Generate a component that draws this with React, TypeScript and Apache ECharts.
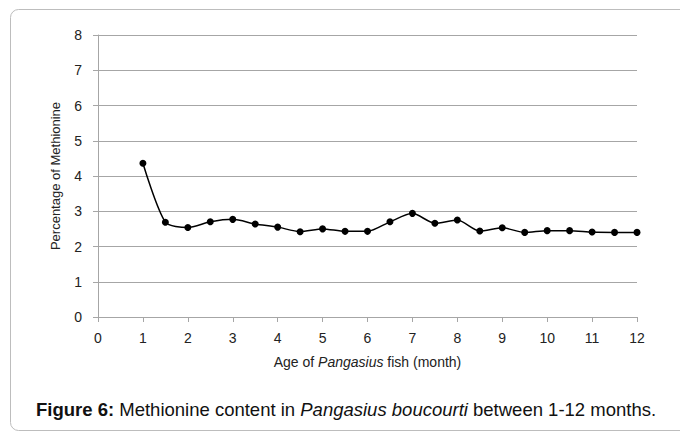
import React, { useEffect, useRef } from "react";
import * as echarts from "echarts";

const ages = [1, 1.5, 2, 2.5, 3, 3.5, 4, 4.5, 5, 5.5, 6, 6.5, 7, 7.5, 8, 8.5, 9, 9.5, 10, 10.5, 11, 11.5, 12];
const methionine = [4.36, 2.69, 2.54, 2.7, 2.77, 2.64, 2.55, 2.42, 2.5, 2.43, 2.43, 2.7, 2.94, 2.66, 2.75, 2.44, 2.53, 2.4, 2.45, 2.45, 2.41, 2.4, 2.4];
const xTitle = "Age of {i|Pangasius} fish (month)";
const yTitle = "Percentage of Methionine";
const caption = "{b|Figure 6:} Methionine content in {i|Pangasius boucourti} between 1-12 months.";

export default function App() {
  const ref = useRef<HTMLDivElement>(null);
  useEffect(() => {
    if (!ref.current) return;
    const chart = echarts.init(ref.current, null, { renderer: "svg" });
    const font = "'Liberation Sans', Arial, sans-serif";
    const axisColor = "#a6a6a6";
    chart.setOption({
      animation: false,
      backgroundColor: "#ffffff",
      grid: { left: 98, right: 43, top: 35, bottom: 118, containLabel: false },
      xAxis: {
        type: "value",
        min: 0,
        max: 12,
        interval: 1,
        name: xTitle,
        nameLocation: "middle",
        nameGap: 38,
        nameTextStyle: {
          fontFamily: font,
          fontSize: 14,
          color: "#222",
          rich: { i: { fontStyle: "italic", fontFamily: font, fontSize: 14, color: "#222" } },
        },
        axisLine: { show: true, lineStyle: { color: axisColor, width: 1 } },
        axisTick: { show: true, length: 5, lineStyle: { color: axisColor } },
        axisLabel: { fontFamily: font, fontSize: 14, color: "#222", margin: 14 },
        splitLine: { show: false },
      },
      yAxis: {
        type: "value",
        min: 0,
        max: 8,
        interval: 1,
        name: yTitle,
        nameLocation: "middle",
        nameGap: 36,
        nameRotate: 90,
        nameTextStyle: { fontFamily: font, fontSize: 13, color: "#222" },
        axisLine: { show: true, lineStyle: { color: axisColor, width: 1 } },
        axisTick: { show: true, length: 5, lineStyle: { color: axisColor } },
        axisLabel: { fontFamily: font, fontSize: 14, color: "#222", margin: 16 },
        splitLine: { show: true, lineStyle: { color: axisColor, width: 1 } },
      },
      series: [
        {
          type: "line",
          data: ages.map((a, i) => [a, methionine[i]]),
          smooth: 0.25,
          symbol: "circle",
          symbolSize: 7,
          itemStyle: { color: "#000" },
          lineStyle: { color: "#000", width: 1.5 },
        },
      ],
      graphic: [
        {
          type: "rect",
          shape: { x: 10.5, y: 9.5, width: 690, height: 421, r: 8 },
          style: { fill: "none", stroke: "#bdbdbd", lineWidth: 1 },
          z: -1,
        },
        {
          type: "text",
          x: 36,
          y: 409,
          style: {
            text: caption,
            verticalAlign: "middle",
            fontFamily: font,
            fontSize: 18.5,
            fill: "#111",
            rich: {
              b: { fontWeight: "bold", fontFamily: font, fontSize: 18.5, fill: "#111" },
              i: { fontStyle: "italic", fontFamily: font, fontSize: 18.5, fill: "#111" },
            },
          },
        },
      ],
    });
    return () => chart.dispose();
  }, []);
  return <div ref={ref} style={{ width: 680, height: 435, position: "absolute", left: 0, top: 0 }} />;
}
